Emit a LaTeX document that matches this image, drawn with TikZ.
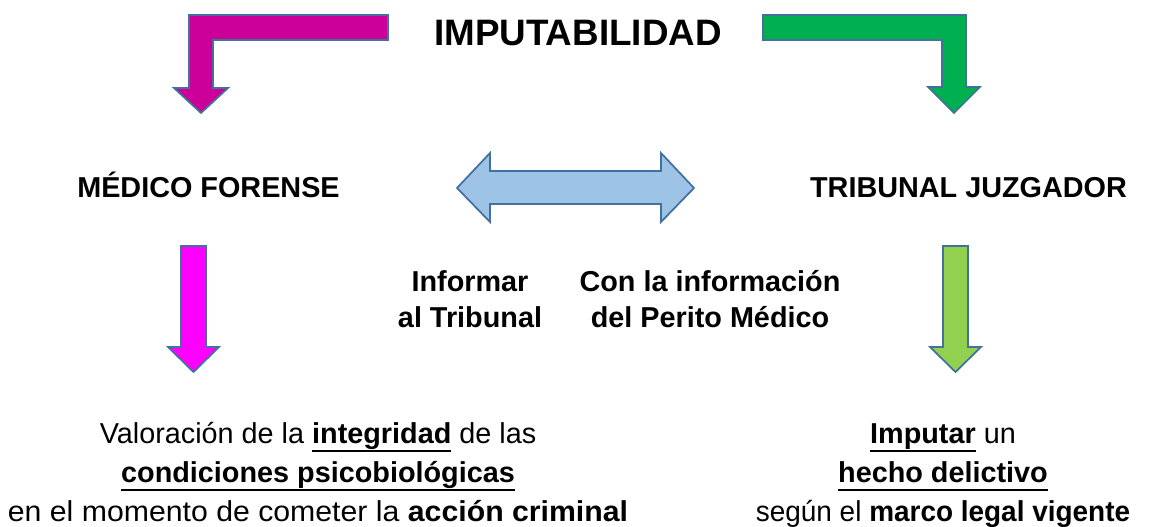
\documentclass[tikz,border=0pt]{standalone}
\usepackage{fontspec}
\usepackage{graphicx}
\setmainfont{Liberation Sans}
\definecolor{plum}{HTML}{CC0099}
\definecolor{pink}{HTML}{FF00FF}
\definecolor{leaf}{HTML}{00B050}
\definecolor{lime}{HTML}{92D050}
\definecolor{sky}{HTML}{9DC3E6}
\definecolor{rim}{HTML}{41719C}
\newcommand\ulword[1]{\setbox0\hbox{#1}\rlap{\rule[-0.3em]{\wd0}{0.07em}}\box0}
\begin{document}
\begin{tikzpicture}[
                x = 0.75pt, y = -0.75pt,
                blk/.style = {draw = rim, line width = 1.3pt, line join = miter},
                title/.style = {inner sep = 0mm, anchor = base, font = \fontsize{27.6}{33}\selectfont\bfseries},
                head/.style = {inner sep = 0mm, anchor = base, font = \fontsize{21.6}{26}\selectfont\bfseries},
                note/.style = {inner sep = 0mm, anchor = base, align = center, font = \fontsize{21.6}{26.3}\selectfont\bfseries},
                body/.style = {inner sep = 0mm, anchor = base, align = center, font = \fontsize{21.6}{29}\selectfont},
            ]
            \useasboundingbox (0, 0) rectangle (1153, 527);

            \node (T) at (578, 46) [title] {IMPUTABILIDAD};
            \node (M) at (208.5, 198) [head] {MÉDICO FORENSE};
            \node (J) at (968.5, 198) [head] {TRIBUNAL JUZGADOR};

            \node (I) at (470, 327) [note] {Informar\\al Tribunal};
            \node (P) at (710, 327) [note] {Con la información\\del Perito Médico};

            \node (V) at (318, 521) [body] {Valoración de la \textbf{\ulword{integridad}} de las\\
                \textbf{\ulword{condiciones psicobiológicas}}\\
                \scalebox{1.05}[1]{en el momento de cometer la \textbf{acción criminal}}};
            \node (H) at (943, 521) [body] {\textbf{\ulword{Imputar}} un\\
                \textbf{\ulword{hecho delictivo}}\\
                \scalebox{0.97}[1]{según el \textbf{marco legal vigente}}};

            \draw[blk, fill = plum] (388, 15) -- (189, 15) -- (189, 88) -- (174, 88) -- (201, 113)
                -- (228, 88) -- (213, 88) -- (213, 40) -- (388, 40) -- cycle;
            \draw[blk, fill = leaf] (763, 15) -- (966, 15) -- (966, 87) -- (980, 87) -- (954, 113)
                -- (928, 87) -- (942, 87) -- (942, 40) -- (763, 40) -- cycle;
            \draw[blk, fill = sky] (457, 188) -- (490, 153) -- (490, 171) -- (661, 171) -- (661, 153)
                -- (694, 188) -- (661, 222) -- (661, 204) -- (490, 204) -- (490, 222) -- cycle;
            \draw[blk, fill = pink] (181, 246) -- (206, 246) -- (206, 347) -- (219, 347) -- (193.5, 372)
                -- (168, 347) -- (181, 347) -- cycle;
            \draw[blk, fill = lime] (943, 246) -- (968, 246) -- (968, 347) -- (981, 347) -- (955.5, 372)
                -- (930, 347) -- (943, 347) -- cycle;
        \end{tikzpicture}
\end{document}
